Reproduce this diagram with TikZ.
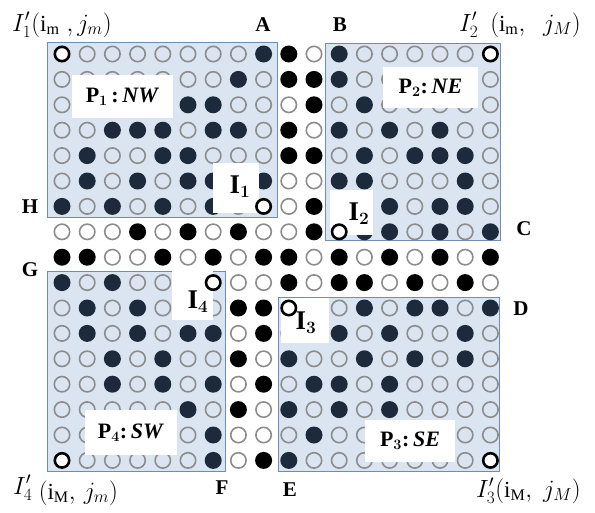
\documentclass[tikz,border=0pt]{standalone}
\usepackage{amsmath}
\usepackage{fontspec}
\setmainfont{Liberation Serif}
\definecolor{boxfill}{HTML}{DAE5F1}
\definecolor{boxedge}{HTML}{6E8DB3}
\definecolor{navy}{HTML}{1C2A3B}
\definecolor{ringgray}{HTML}{8C8C8C}
\tikzset{
  pbox/.style={fill=boxfill, draw=boxedge, line width=0.9pt},
  wdot/.style={circle, draw=ringgray, line width=1.6pt, minimum size=15.4pt, inner sep=0pt},
  bdot/.style={circle, fill=black, minimum size=17pt, inner sep=0pt},
  ndot/.style={bdot, fill=navy},
  idot/.style={circle, draw=black, line width=2.6pt, fill=white, minimum size=14.4pt, inner sep=0pt},
  plab/.style={fill=white, inner sep=0pt, font=\bfseries\boldmath\fontsize{22}{22}\selectfont},
  ilab/.style={fill=white, inner sep=0pt, font=\bfseries\boldmath\fontsize{27}{27}\selectfont},
  letter/.style={inner sep=0pt, font=\bfseries\fontsize{21}{21}\selectfont},
  corner/.style={inner sep=0pt, font=\fontsize{23}{23}\selectfont}
}
\begin{document}
\begin{tikzpicture}[x=1pt,y=-1pt]
\useasboundingbox (0,0) rectangle (595,512);
% blue blocks
\draw[pbox] (47,42.5) rectangle (277,217);
\draw[pbox] (325,43) rectangle (500.5,240);
\draw[pbox] (47,271) rectangle (225,471.5);
\draw[pbox] (278.5,297) rectangle (499.5,471);
% dots
\foreach \rowvals [count=\r from 0] in {
{2,0,0,0,0,0,0,0,1,1,0,1,0,0,0,0,0,2},
{0,0,0,0,0,0,0,1,0,1,1,1,0,0,0,0,0,0},
{0,0,0,0,0,1,1,0,0,0,1,0,1,0,0,0,0,0},
{0,0,1,1,1,0,1,1,0,1,0,1,0,1,0,1,0,0},
{0,1,0,0,1,1,0,0,0,1,1,0,1,0,1,1,1,0},
{0,1,0,1,0,1,1,0,1,0,0,1,1,0,0,0,1,0},
{1,0,1,0,1,0,1,0,2,0,1,1,0,1,0,1,1,0},
{0,0,0,1,0,1,0,1,0,0,1,2,1,1,0,1,0,1},
{1,1,0,0,1,0,1,0,1,1,0,1,0,1,0,1,0,1},
{1,0,1,0,0,0,2,0,0,1,0,1,1,0,1,0,1,0},
{0,1,0,1,0,0,0,1,1,2,0,0,1,0,1,1,0,1},
{0,1,0,1,0,1,1,0,1,0,0,1,0,1,0,0,1,0},
{0,0,1,0,1,0,0,1,0,1,0,0,1,0,1,0,1,0},
{0,0,1,0,1,0,1,0,1,0,1,1,0,1,0,0,0,0},
{0,0,0,0,0,1,0,1,0,1,0,1,0,1,0,0,0,0},
{0,0,0,0,0,0,1,0,0,0,1,0,0,0,0,0,0,0},
{2,0,0,0,0,0,1,0,1,1,0,0,0,0,0,0,0,2}}{
  \foreach \v [count=\c from 0] in \rowvals {
    \pgfmathtruncatemacro\ins{or(or(and(\r<7,\c<9),and(\r<8,\c>10)),or(and(\r>8,\c<7),and(\r>9,\c>8)))}
    \ifnum\v=1
      \ifnum\ins=1
        \node[ndot] (d-\r-\c) at ({62+25.2*\c},{54+25.4*\r}) {};
      \else
        \node[bdot] (d-\r-\c) at ({62+25.2*\c},{54+25.4*\r}) {};
      \fi
    \else
      \ifnum\v=0
        \node[wdot] (d-\r-\c) at ({62+25.2*\c},{54+25.4*\r}) {};
      \fi
    \fi
  }
}
% white label boxes
\node[plab, minimum width=101pt, minimum height=43pt] (p1) at (122.5,96.5) {P$_1$\,:\,\textit{NW}};
\node[plab, minimum width=95pt, minimum height=41pt] (p2) at (430.5,87.5) {P$_2$:\,\textit{NE}};
\node[plab, minimum width=92pt, minimum height=45pt] (p4) at (131,432.5) {P$_4$:\,\textit{SW}};
\node[plab, minimum width=90pt, minimum height=42pt] (p3) at (410,441) {P$_3$:\,\textit{SE}};
\node[fill=white, inner sep=0pt, minimum width=46pt, minimum height=50pt] (b1) at (236,188) {};
\node[fill=white, inner sep=0pt, minimum width=43pt, minimum height=45pt] (b2) at (351.5,212.5) {};
\node[fill=white, inner sep=0pt, minimum width=41pt, minimum height=49pt] (b4) at (192.5,295.5) {};
\node[fill=white, inner sep=0pt, minimum width=48pt, minimum height=45pt] (b3) at (305,320.5) {};
\node[ilab, fill=none] (i1) at (240,187) {I$_1$};
\node[ilab, fill=none] (i2) at (359,214) {I$_2$};
\node[ilab, fill=none] (i4) at (198,302) {I$_4$};
\node[ilab, fill=none] (i3) at (306,323) {I$_3$};
% thick points
\node[idot] (q1) at (62,54) {};
\node[idot] (q2) at (490.4,54) {};
\node[idot] (q3) at (490.4,460.4) {};
\node[idot] (q4) at (62,460.4) {};
\node[idot] (k1) at (263.6,206.4) {};
\node[idot] (k2) at (339.2,231.8) {};
\node[idot] (k3) at (288.8,308) {};
\node[idot] (k4) at (213.2,282.6) {};
% letters
\node[letter] (A) at (263,25) {A};
\node[letter] (B) at (340,25) {B};
\node[letter] (C) at (524,229) {C};
\node[letter] (D) at (521,309) {D};
\node[letter] (E) at (290,490) {E};
\node[letter] (F) at (222,488) {F};
\node[letter] (G) at (30,270) {G};
\node[letter] (H) at (30,207) {H};
% corner labels
\node[corner, anchor=base west] (c1) at (12,31) {$I'_1(\mathrm{i_m}\;,j_m)$};
\node[corner, anchor=base east] (c2) at (581,31) {$I'_2$\hspace{12pt}$(\mathrm{i_m},\;\;j_M)$};
\node[corner, anchor=base east] (c3) at (581,497) {$I'_3(\mathrm{i_M},\;j_M)$};
\node[corner, anchor=base west] (c4) at (13,494) {$I'_4$\;\raisebox{-5pt}{$(\mathrm{i_M},\,j_m)$}};
\end{tikzpicture}
\end{document}
